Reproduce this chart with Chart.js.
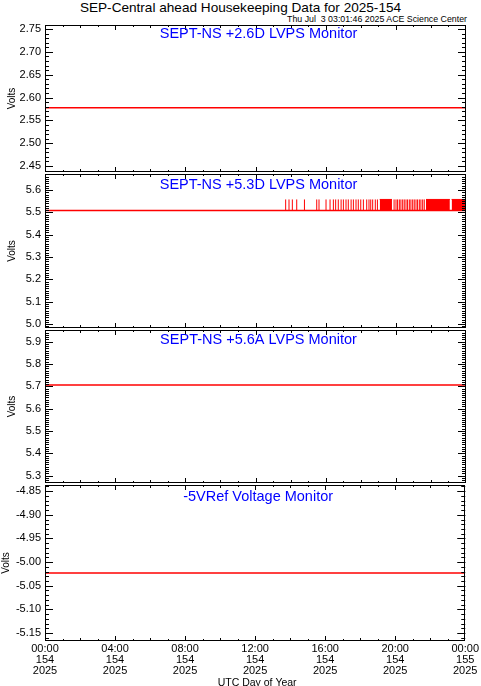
<!DOCTYPE html>
<html><head><meta charset="utf-8">
<script src="https://cdn.jsdelivr.net/npm/chart.js@4/dist/chart.umd.min.js"></script>
<style>
html,body{margin:0;padding:0;background:#fff;}
#wrap{position:relative;width:481px;height:686px;overflow:hidden;}
canvas{position:absolute;left:0;top:0;}
#title{position:absolute;left:0;width:481px;top:0px;text-align:center;font:13.6px "Liberation Sans",Arial,sans-serif;color:#000;white-space:pre;}
#sub{position:absolute;right:14px;top:14px;font:8.8px "Liberation Sans",Arial,sans-serif;color:#000;white-space:pre;}
</style></head><body>
<div id="wrap">
<div id="title">SEP-Central ahead Housekeeping Data for 2025-154</div>
<div id="sub">Thu Jul  3 03:01:46 2025 ACE Science Center</div>
<canvas id="c0" width="481" height="686"></canvas>
<canvas id="c1" width="481" height="686"></canvas>
<canvas id="c2" width="481" height="686"></canvas>
<canvas id="c3" width="481" height="686"></canvas>
</div>
<script>
// ---------------- data ----------------
const dayHours = [0, 24];
const xTicks = [0, 4, 8, 12, 16, 20, 24];
const xTickTimes = ['00:00','04:00','08:00','12:00','16:00','20:00','00:00'];
const xTickDays = ['154','154','154','154','154','154','155'];
const xTickYears = ['2025','2025','2025','2025','2025','2025','2025'];
const xAxisTitle = 'UTC Day of Year';
const yAxisTitle = 'Volts';

const panelTitles = ['SEPT-NS +2.6D LVPS Monitor','SEPT-NS +5.3D LVPS Monitor','SEPT-NS +5.6A LVPS Monitor','-5VRef Voltage Monitor'];

const v26 = [2.578, 2.578];
const v53 = [5.509, 5.509];
const v56 = [5.706, 5.706];
const vRef = [-5.023, -5.023];

// +5.3D monitor: brief readings at the next level up
const v53High = 5.558;
const v53SpikeHours = [13.72,13.91,14.10,14.35,14.79,15.49,15.62,16.02,16.25,16.44,16.57,16.72,16.88,17.01,17.16,17.29,17.45,17.58,17.73,17.86,18.00,18.15,18.34,18.47,18.57,18.68,18.83,18.95,
  19.90,20.01,20.10,20.20,20.29,20.39,20.48,20.58,20.67,20.77,20.86,20.96,21.05,21.15,21.24,21.34,21.43,21.53,21.62];
const v53DenseRanges = [[19.08,19.78],[21.72,23.08],[23.18,24.0]];

const yTicks26 = [2.45,2.50,2.55,2.60,2.65,2.70,2.75];
const yTicks53 = [5.0,5.1,5.2,5.3,5.4,5.5,5.6];
const yTicks56 = [5.3,5.4,5.5,5.6,5.7,5.8,5.9];
const yTicksRef = [-5.15,-5.10,-5.05,-5.00,-4.95,-4.90,-4.85];

const yLim26 = [2.437, 2.759];
const yLim53 = [4.982, 5.672];
const yLim56 = [5.267, 5.952];
const yLimRef = [-5.167, -4.837];

// ---------------- layout ----------------
const W = 481, H = 686;
const plotLeft = 45, plotRight = 466;
const panelBox = [[25,172],[174,328],[330,483],[485,641]];
const FONT = '"Liberation Sans", Arial, Helvetica, sans-serif';

const framePlugin = {
  id: 'frame',
  afterDatasetsDraw(chart, args, o) {
    const {ctx, chartArea: a, scales: {x, y}} = chart;
    ctx.save();
    ctx.strokeStyle = '#000';
    ctx.lineWidth = 1;
    ctx.beginPath();
    const mn = y.min, mx = y.max;
    for (let k = Math.ceil(mn / o.yMinor - 1e-6); k * o.yMinor <= mx + 1e-9; k++) {
      const py = Math.round(y.getPixelForValue(k * o.yMinor)) + 0.5;
      ctx.moveTo(a.left, py); ctx.lineTo(a.left + 4, py);
      ctx.moveTo(a.right, py); ctx.lineTo(a.right - 4, py);
    }
    for (const v of o.yMajor) {
      const py = Math.round(y.getPixelForValue(v)) + 0.5;
      ctx.moveTo(a.left, py); ctx.lineTo(a.left + 8, py);
      ctx.moveTo(a.right, py); ctx.lineTo(a.right - 8, py);
    }
    for (let h = 1; h < 24; h++) {
      const px = Math.round(x.getPixelForValue(h)) + 0.5;
      const len = (h % 4 === 0) ? 5 : (h % 2 === 0 ? 3 : 2);
      ctx.moveTo(px, a.top); ctx.lineTo(px, a.top + len);
      ctx.moveTo(px, a.bottom); ctx.lineTo(px, a.bottom - len);
    }
    ctx.stroke();
    ctx.strokeRect(Math.round(a.left) + 0.5, Math.round(a.top) + 0.5, Math.round(a.right - a.left) - 1, Math.round(a.bottom - a.top) - 1);
    ctx.fillStyle = '#0000ff';
    ctx.font = '14.5px ' + FONT;
    ctx.textAlign = 'center';
    ctx.textBaseline = 'middle';
    ctx.fillText(o.title, (a.left + a.right) / 2 + 3, a.top + o.titleDy);
    if (o.xTitle) {
      ctx.fillStyle = '#000';
      ctx.font = '10.5px ' + FONT;
      ctx.fillText(o.xTitle, (a.left + a.right) / 2 + 2, 683);
    }
    ctx.restore();
  }
};

function makeChart(idx, datasets, yTicks, yLim, dec, yMinor, titlePad, titleDy) {
  const [top, bottom] = panelBox[idx];
  const last = idx === 3;
  return new Chart(document.getElementById('c' + idx), {
    type: 'line',
    data: { datasets },
    options: {
      responsive: false,
      animation: false,
      events: [],
      layout: { padding: { top: top, bottom: last ? 0 : H - bottom, left: 0, right: W - plotRight } },
      plugins: {
        legend: { display: false }, tooltip: { enabled: false },
        frame: { yMajor: yTicks, yMinor: yMinor, title: panelTitles[idx], titleDy: titleDy, xTitle: last ? xAxisTitle : null }
      },
      elements: { point: { radius: 0 } },
      scales: {
        x: {
          type: 'linear', min: dayHours[0], max: dayHours[1],
          display: last,
          afterBuildTicks: s => { s.ticks = xTicks.map(v => ({ value: v })); },
          afterFit: s => { if (last) s.height = H - bottom; },
          grid: { display: false, drawTicks: false },
          border: { display: false },
          ticks: {
            autoSkip: false, maxRotation: 0, padding: 2, color: '#000',
            font: { family: FONT, size: 11, lineHeight: 1.0 },
            callback: (v, i) => [xTickTimes[i], xTickDays[i], xTickYears[i]]
          }
        },
        y: {
          type: 'linear', min: yLim[0], max: yLim[1],
          afterBuildTicks: s => { s.ticks = yTicks.map(v => ({ value: v })); },
          afterFit: s => { s.width = plotLeft; },
          grid: { display: false, drawTicks: false },
          border: { display: false },
          ticks: { padding: 4, color: '#000', font: { family: FONT, size: 11 }, callback: v => v.toFixed(dec) },
          title: { display: true, text: yAxisTitle, color: '#000', font: { family: FONT, size: 10 }, padding: { top: titlePad, bottom: 0 } }
        }
      }
    },
    plugins: [framePlugin]
  });
}

function flatLine(vals) {
  return { data: dayHours.map((h, i) => ({ x: h, y: vals[i] })), borderColor: '#ff0000', borderWidth: 1.5, fill: false, pointRadius: 0 };
}

makeChart(0, [flatLine(v26)], yTicks26, yLim26, 2, 0.01, 6, 9);

const spikePts = [];
for (const t of v53SpikeHours) {
  spikePts.push({ x: t, y: v53[0] }, { x: t, y: v53High }, { x: t, y: null });
}
const ds53 = [flatLine(v53),
  { data: spikePts, borderColor: '#ff0000', borderWidth: 1, fill: false, spanGaps: false, pointRadius: 0 }];
for (const r of v53DenseRanges) {
  ds53.push({ data: r.map(t => ({ x: t, y: v53High })), borderColor: '#ff0000', backgroundColor: '#ff0000', borderWidth: 1, fill: { value: v53[0] }, pointRadius: 0 });
}
makeChart(1, ds53, yTicks53, yLim53, 1, 0.01, 6, 11);
makeChart(2, [flatLine(v56)], yTicks56, yLim56, 1, 0.01, 6, 10);
makeChart(3, [flatLine(vRef)], yTicksRef, yLimRef, 2, 0.01, 0, 12);
</script>
</body></html>
